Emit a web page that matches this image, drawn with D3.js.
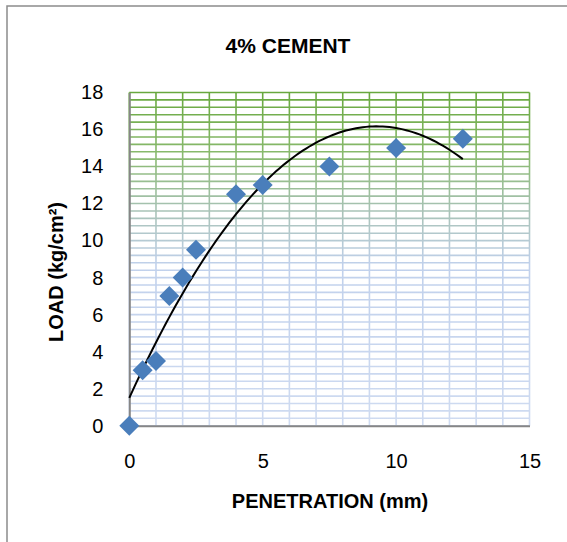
<!DOCTYPE html>
<html>
<head>
<meta charset="utf-8">
<script src="https://cdn.jsdelivr.net/npm/d3@7"></script>
<style>
  body { margin: 0; background: #fff; }
  text { font-family: "Liberation Sans", Arial, sans-serif; fill: #000; }
</style>
</head>
<body>
<div id="chart"></div>
<script>
// data
var penetration = [0, 0.5, 1, 1.5, 2, 2.5, 4, 5, 7.5, 10, 12.5];
var load = [0, 3, 3.5, 7, 8, 9.5, 12.5, 13, 14, 15, 15.5];
var xTicks = [0, 5, 10, 15];
var yTicks = [0, 2, 4, 6, 8, 10, 12, 14, 16, 18];

var W = 567, H = 542;
var x = d3.scaleLinear().domain([0, 15]).range([129.3, 529.5]);
var y = d3.scaleLinear().domain([0, 18]).range([425.7, 92.5]);

var svg = d3.select("#chart").append("svg")
  .attr("width", W).attr("height", H);

// gradient used for the grid lines (green on top, pale blue below)
var grad = svg.append("defs").append("linearGradient")
  .attr("id", "gridGrad")
  .attr("gradientUnits", "userSpaceOnUse")
  .attr("x1", 0).attr("x2", 0)
  .attr("y1", y(18)).attr("y2", y(0));
grad.append("stop").attr("offset", "0%").attr("stop-color", "#68A83E");
grad.append("stop").attr("offset", "18%").attr("stop-color", "#88B96C");
grad.append("stop").attr("offset", "36%").attr("stop-color", "#A9C3B8");
grad.append("stop").attr("offset", "52%").attr("stop-color", "#C1D1EC");
grad.append("stop").attr("offset", "100%").attr("stop-color", "#CFDBF1");

// chart border
svg.append("rect")
  .attr("x", 7).attr("y", 6).attr("width", 600).attr("height", 600)
  .attr("fill", "none").attr("stroke", "#8c8c8c").attr("stroke-width", 1.5);

// grid: minor steps are major/5
var hLines = d3.range(0, 18.001, 0.4);
var vLines = d3.range(0, 15.001, 1);
var grid = svg.append("g");
grid.selectAll(".h").data(hLines).enter().append("line")
  .attr("x1", x(0)).attr("x2", x(15))
  .attr("y1", function(d){ return y(d); })
  .attr("y2", function(d){ return y(d); })
  .attr("stroke", "url(#gridGrad)").attr("stroke-width", 1.6);
grid.selectAll(".v").data(vLines).enter().append("line")
  .attr("y1", y(0)).attr("y2", y(18))
  .attr("x1", function(d){ return x(d); })
  .attr("x2", function(d){ return x(d); })
  .attr("stroke", "url(#gridGrad)").attr("stroke-width", 1.6);

// axes
var xAxis = svg.append("g").attr("transform", "translate(0," + y(0) + ")")
  .call(d3.axisBottom(x).tickValues(xTicks).tickSize(0).tickPadding(28));
var yAxis = svg.append("g").attr("transform", "translate(" + x(0) + ",0)")
  .call(d3.axisLeft(y).tickValues(yTicks).tickSize(0).tickPadding(26));
[xAxis, yAxis].forEach(function(a){
  a.select(".domain").attr("stroke", "#868686").attr("stroke-width", 2);
  a.selectAll("text").style("font-size", "20px")
   .style("font-family", "Liberation Sans, Arial, sans-serif");
});

// polynomial (order 2) trendline, least squares from the data
function polyFit(xs, ys){
  var s = [0,0,0,0,0], t = [0,0,0];
  xs.forEach(function(v, i){
    for (var k = 0; k < 5; k++) s[k] += Math.pow(v, k);
    for (var k = 0; k < 3; k++) t[k] += Math.pow(v, k) * ys[i];
  });
  var m = [[s[0],s[1],s[2],t[0]],[s[1],s[2],s[3],t[1]],[s[2],s[3],s[4],t[2]]];
  for (var i = 0; i < 3; i++){
    for (var j = i+1; j < 3; j++){
      var f = m[j][i] / m[i][i];
      for (var k = i; k < 4; k++) m[j][k] -= f * m[i][k];
    }
  }
  var c = [0,0,0];
  for (var i = 2; i >= 0; i--){
    var sum = m[i][3];
    for (var k = i+1; k < 3; k++) sum -= m[i][k] * c[k];
    c[i] = sum / m[i][i];
  }
  return c;
}
var coef = polyFit(penetration, load);
var xMax = d3.max(penetration);
var trend = d3.range(0, xMax + 0.001, xMax / 100).map(function(v){
  return [v, coef[0] + coef[1]*v + coef[2]*v*v];
});
svg.append("path")
  .datum(trend)
  .attr("fill", "none").attr("stroke", "#000").attr("stroke-width", 2)
  .attr("d", d3.line().x(function(d){ return x(d[0]); }).y(function(d){ return y(d[1]); }));

// markers
svg.selectAll(".pt").data(penetration).enter().append("path")
  .attr("d", d3.symbol().type(d3.symbolSquare).size(200))
  .attr("transform", function(d, i){
    return "translate(" + x(d) + "," + y(load[i]) + ") rotate(45)";
  })
  .attr("fill", "#4A7EBB");

// titles
svg.append("text").attr("x", 288).attr("y", 53).attr("text-anchor", "middle")
  .style("font-size", "21px").style("font-weight", "bold").text("4% CEMENT");
svg.append("text").attr("x", 330).attr("y", 508).attr("text-anchor", "middle")
  .style("font-size", "20px").style("font-weight", "bold").text("PENETRATION (mm)");
svg.append("text")
  .attr("transform", "translate(63," + 272 + ") rotate(-90)")
  .attr("text-anchor", "middle")
  .style("font-size", "20px").style("font-weight", "bold")
  .text("LOAD (kg/cm²)");
</script>
</body>
</html>
